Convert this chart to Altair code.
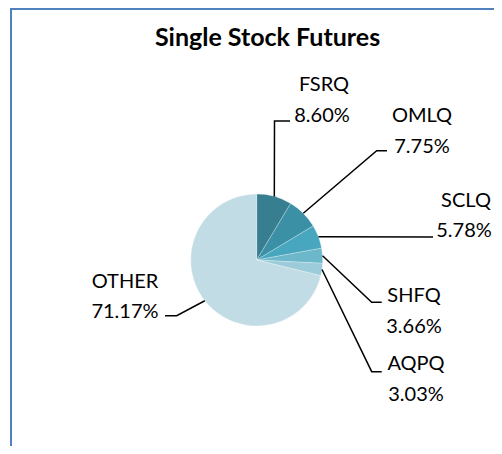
import altair as alt
import pandas as pd
import numpy as np

# ---- data ----
categories = ["FSRQ", "OMLQ", "SCLQ", "SHFQ", "AQPQ", "OTHER"]
shares = [8.60, 7.75, 5.78, 3.66, 3.03, 71.17]
pct_labels = ["8.60%", "7.75%", "5.78%", "3.66%", "3.03%", "71.17%"]
colors = ["#377e90", "#3c90a6", "#48a6be", "#6db7cb", "#9ccbd9", "#c2dce5"]

# ---- layout (page pixel coords) ----
W, H = 486, 438
OFF = 8
CX, CY, R = 256.7, 260.0, 66.0
# label centers / baselines
name_x = [324, 422, 466, 414, 416, 125]
name_base = [91, 122, 207, 302, 370, 288]
pct_x = [322, 422, 464, 414, 416, 125]
pct_base = [121.5, 153, 237, 333, 401, 318]
# leader elbow and end points
elbow_x = [274.5, 376.7, 433.0, 371.7, 371.7, 176.7]
elbow_y = [121.0, 150.7, 237.0, 302.3, 371.7, 315.7]
end_x = [290.0, 387.0, 433.0, 381.7, 381.7, 165.0]
end_y = [121.0, 150.7, 237.0, 302.3, 371.7, 315.7]

df = pd.DataFrame({"cat": categories, "share": shares, "order": range(len(categories))})

# leader start points from slice mid-angles
cum = np.cumsum(shares)
tot = cum[-1]
starts = cum - np.array(shares)
mid = (starts + np.array(shares) / 2) / tot * 2 * np.pi
sx = CX + R * np.sin(mid)
sy = CY - R * np.cos(mid)

rows = []
for i, c in enumerate(categories):
    pts = [(sx[i], sy[i]), (elbow_x[i], elbow_y[i]), (end_x[i], end_y[i])]
    for k, (px, py) in enumerate(pts):
        rows.append({"cat": c, "k": k, "px": px - OFF, "py": py - OFF})
lead = pd.DataFrame(rows)

labels = pd.DataFrame({
    "cat": categories,
    "pct": pct_labels,
    "nx": [v - OFF for v in name_x],
    "ny": [v - OFF for v in name_base],
    "qx": [v - OFF for v in pct_x],
    "qy": [v - OFF for v in pct_base],
})

xs = alt.Scale(domain=[0, W], range=[0, W])
ys = alt.Scale(domain=[0, H], range=[0, H])

border_top = alt.Chart(pd.DataFrame({"a": [0]})).mark_rule(color="#4f81bd", strokeWidth=2).encode(
    x=alt.value(10 - OFF), x2=alt.value(W), y=alt.value(1)
)
border_left = alt.Chart(pd.DataFrame({"a": [0]})).mark_rule(color="#4f81bd", strokeWidth=2).encode(
    x=alt.value(11 - OFF), y=alt.value(0), y2=alt.value(H)
)

pie = alt.Chart(df).mark_arc(outerRadius=R, stroke="#ffffff", strokeWidth=0.5, strokeOpacity=0.5).encode(
    theta=alt.Theta("share:Q", stack=True),
    color=alt.Color("cat:N", scale=alt.Scale(domain=categories, range=colors), legend=None),
    order=alt.Order("order:Q"),
    x=alt.value(CX - OFF),
    y=alt.value(CY - OFF),
)

leaders = alt.Chart(lead).mark_line(color="#000000", strokeWidth=1.5).encode(
    x=alt.X("px:Q", scale=xs, axis=None),
    y=alt.Y("py:Q", scale=ys, axis=None),
    detail="cat:N",
    order="k:Q",
)

FONT = "Lato"
name_txt = alt.Chart(labels).mark_text(font=FONT, fontSize=20, color="#000000", align="center", baseline="alphabetic").encode(
    x=alt.X("nx:Q", scale=xs, axis=None),
    y=alt.Y("ny:Q", scale=ys, axis=None),
    text="cat:N",
)
pct_txt = alt.Chart(labels).mark_text(font=FONT, fontSize=20, color="#000000", align="center", baseline="alphabetic").encode(
    x=alt.X("qx:Q", scale=xs, axis=None),
    y=alt.Y("qy:Q", scale=ys, axis=None),
    text="pct:N",
)

title = alt.Chart(pd.DataFrame({"t": ["Single Stock Futures"]})).mark_text(
    font=FONT, fontSize=25, fontWeight="bold", color="#000000", align="center", baseline="alphabetic"
).encode(x=alt.value(267.5 - OFF), y=alt.value(46 - OFF), text="t:N")

chart = alt.layer(border_top, border_left, pie, leaders, name_txt, pct_txt, title).properties(
    width=W, height=H, padding=0, autosize=alt.AutoSizeParams(type="none")
).configure_view(stroke=None)

chart.save("out.html", embed_options={"renderer": "svg", "actions": False})
